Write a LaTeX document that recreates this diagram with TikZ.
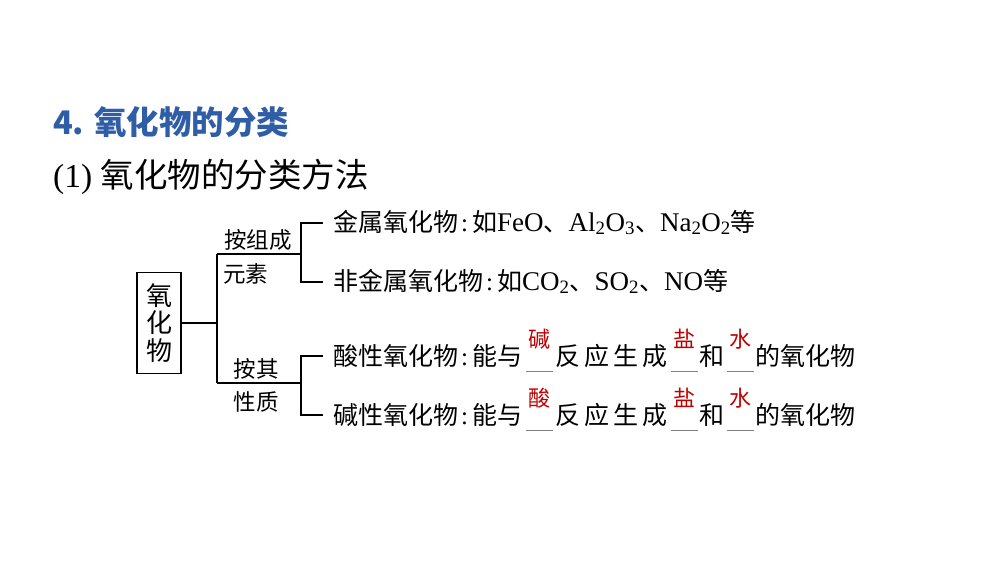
\documentclass[tikz,border=0pt]{standalone}
\usepackage{fontspec}
\setmainfont{Liberation Serif}
\newfontfamily\cjk{Noto Sans CJK SC}
\definecolor{titleblue}{HTML}{2F5DA6}
\definecolor{ansred}{HTML}{C00000}
\newcommand\zh[1]{{\cjk #1}}
\newcommand\la[1]{{\fontsize{27}{27}\selectfont #1}}
\newcommand\colonsep{\hspace{3pt}:\hspace{4pt}}
\newcommand\ans[2]{\makebox[#1][c]{\raisebox{17.5pt}{\fontsize{22}{22}\selectfont\cjk\color{ansred}#2}}\llap{\textcolor{gray}{\rule[-7pt]{#1}{0.7pt}}}}
\newcommand\fanying{\zh{反\kern4pt 应\kern4pt 生\kern4pt 成}\hspace{4pt}}
\begin{document}
\begin{tikzpicture}[x=1pt,y=-1pt,
  conn/.style={line width=1.4pt},
  rowtext/.style={anchor=base west,inner sep=0pt,font=\fontsize{25}{25}\selectfont},
  branchlbl/.style={inner sep=0pt,font=\fontsize{22.5}{22.5}\selectfont\cjk},
  rootbox/.style={draw,line width=1.4pt,minimum width=44pt,minimum height=101pt,inner sep=0pt,font=\fontsize{26}{27.5}\selectfont\cjk,align=center}]
\useasboundingbox (0,0) rectangle (1000,563);
\node[anchor=west,inner sep=0pt,font=\fontsize{32.5}{32.5}\selectfont\cjk\bfseries,text=titleblue] (title) at (53,122) {4. 氧化物的分类};
\node[anchor=west,inner sep=0pt,font=\fontsize{33.5}{33.5}\selectfont] (sub) at (53,177) {(1) \zh{氧化物的分类方法}};
\node[rootbox] (root) at (159,323) {氧\\化\\物};
\coordinate (j) at (217,323);
\coordinate (jt) at (217,254);
\coordinate (jb) at (217,383);
\coordinate (ut) at (301,254);
\coordinate (ub) at (301,383);
\node[rowtext] (r1) at (333,231) {\zh{金属氧化物}\colonsep\zh{如}\la{FeO}\zh{、}\la{Al\textsubscript{2}O\textsubscript{3}}\zh{、}\la{Na\textsubscript{2}O\textsubscript{2}}\zh{等}};
\node[rowtext] (r2) at (333,290) {\zh{非金属氧化物}\colonsep\zh{如}\la{CO\textsubscript{2}}\zh{、}\la{SO\textsubscript{2}}\zh{、}\la{NO}\zh{等}};
\node[rowtext] (r3) at (333,365) {\zh{酸性氧化物}\colonsep\zh{能与}\hspace{4pt}\ans{27pt}{碱}\hspace{2pt}\fanying\ans{27pt}{盐}\hspace{1pt}\zh{和}\hspace{3pt}\ans{27pt}{水}\hspace{1pt}\zh{的氧化物}};
\node[rowtext] (r4) at (333,424) {\zh{碱性氧化物}\colonsep\zh{能与}\hspace{4pt}\ans{27pt}{酸}\hspace{2pt}\fanying\ans{27pt}{盐}\hspace{1pt}\zh{和}\hspace{3pt}\ans{27pt}{水}\hspace{1pt}\zh{的氧化物}};
\draw[conn] (root.east) -- (j);
\draw[conn] (jt) -- (jb);
\draw[conn] (jt) -- (ut);
\draw[conn] (jb) -- (ub);
\draw[conn] ([xshift=-10pt,yshift=8pt]r1.base west) -| (ut) |- ([xshift=-10pt,yshift=8pt]r2.base west);
\draw[conn] ([xshift=-10pt,yshift=9pt]r3.base west) -| (ub) |- ([xshift=-10pt,yshift=9pt]r4.base west);
\node[branchlbl] (l1) at (258,240) {按组成};
\node[branchlbl,anchor=west] (l2) at (223,274) {元素};
\node[branchlbl] (l3) at (256,369) {按其};
\node[branchlbl] (l4) at (256,402) {性质};
\end{tikzpicture}
\end{document}
